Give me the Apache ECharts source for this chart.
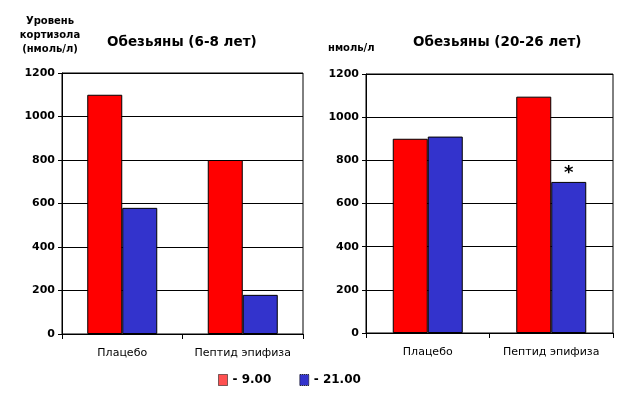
<!DOCTYPE html>
<html><head><meta charset="utf-8">
<script src="https://cdn.jsdelivr.net/npm/echarts@6/dist/echarts.min.js"></script>
<style>html,body{margin:0;padding:0;background:#fff}#c{width:626px;height:393px}</style>
</head><body><div id="c"></div>
<script>
const categories = ['Плацебо', 'Пептид эпифиза'];
const seriesNames = ['- 9.00', '- 21.00'];
const young9 = [1100, 800];
const young21 = [580, 180];
const old9 = [900, 1095];
const old21 = [910, 700];
const yTicks = {min: 0, max: 1200, interval: 200};

const F = 'DejaVu Sans';
const chart = echarts.init(document.getElementById('c'));

function xAx(i){
  return {type:'category', gridIndex:i, data:categories,
    axisLine:{lineStyle:{color:'#000', width:1}},
    axisTick:{show:true, length:5, lineStyle:{color:'#000'}},
    axisLabel:{color:'#000', fontFamily:F, fontSize:11, margin:14, interval:0},
    splitLine:{show:false}};
}
function yAx(i){
  return {type:'value', gridIndex:i, min:yTicks.min, max:yTicks.max, interval:yTicks.interval,
    axisLine:{show:true, lineStyle:{color:'#000', width:1}},
    axisTick:{show:true, inside:false, length:4, lineStyle:{color:'#000'}},
    axisLabel:{color:'#000', fontFamily:F, fontSize:11, fontWeight:'bold', margin:7, formatter:v => String(v)},
    splitLine:{show:true, lineStyle:{color:'#000', width:1}}};
}
function bar(name, data, color, i){
  return {type:'bar', name:name, xAxisIndex:i, yAxisIndex:i, data:data, barWidth:35, barGap:'0%',
    itemStyle:{color:color, borderColor:'#000', borderWidth:1}, silent:true};
}
const old21Data = old21.map((v, k) => k === 1 ? {value:v, label:{show:true, formatter:'*', position:'top', distance:0, color:'#000', fontFamily:F, fontSize:18, fontWeight:'bold'}} : v);

chart.setOption({
  animation:false,
  backgroundColor:'#fff',
  title:[
    {text:'Обезьяны (6-8 лет)', left:102, top:30, textStyle:{fontFamily:F, fontSize:13.5, fontWeight:'bold', color:'#000'}},
    {text:'Обезьяны (20-26 лет)', left:408, top:30, textStyle:{fontFamily:F, fontSize:13.5, fontWeight:'bold', color:'#000'}},
    {text:'Уровень\nкортизола\n(нмоль/л)', left:45, top:9, textAlign:'center', textStyle:{fontFamily:F, fontSize:10, fontWeight:'bold', color:'#000', lineHeight:14, align:'center'}},
    {text:'нмоль/л', left:323, top:38, textStyle:{fontFamily:F, fontSize:10, fontWeight:'bold', color:'#000'}}
  ],
  legend:{left:213, top:369, itemWidth:9, itemHeight:11, itemGap:28, icon:'rect',
    textStyle:{fontFamily:F, fontSize:12, fontWeight:'bold', color:'#000'},
    data:[{name:seriesNames[0], itemStyle:{color:'#ff5050', borderColor:'#000', borderWidth:1, borderType:'dotted'}},
          {name:seriesNames[1], itemStyle:{color:'#3333cc', borderColor:'#000', borderWidth:1, borderType:'dotted'}}]},
  grid:[
    {left:62, top:73, width:241, height:261, show:true, borderColor:'#000', borderWidth:1},
    {left:366, top:74, width:247, height:259, show:true, borderColor:'#000', borderWidth:1}
  ],
  xAxis:[xAx(0), xAx(1)],
  yAxis:[yAx(0), yAx(1)],
  series:[
    bar(seriesNames[0], young9, '#ff0000', 0),
    bar(seriesNames[1], young21, '#3333cc', 0),
    bar(seriesNames[0], old9, '#ff0000', 1),
    bar(seriesNames[1], old21Data, '#3333cc', 1)
  ]
});
</script></body></html>
